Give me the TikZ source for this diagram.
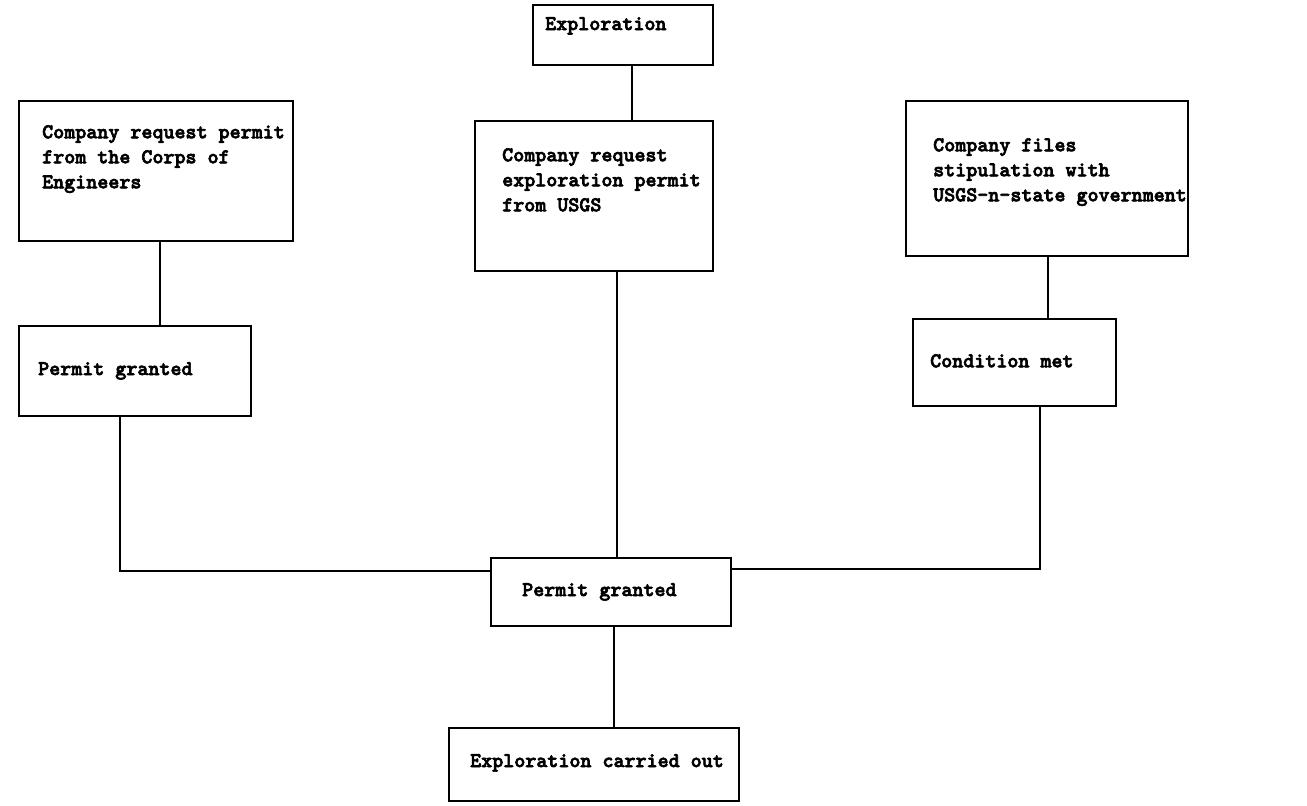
\documentclass[tikz,border=0pt]{standalone}
\usepackage{fontspec}
\newfontfamily\tw[FakeBold=3]{lmmonolt10-bold.otf}
\begin{document}
\begin{tikzpicture}[x=1pt,y=-1pt,
  box/.style={draw, line width=1.6pt, inner sep=0pt, anchor=north west},
  txt/.style={font=\tw\fontsize{21}{25}\selectfont, anchor=north west, inner sep=0pt, align=left},
  conn/.style={line width=1.6pt}]
\useasboundingbox (0,0) rectangle (1307,806);
% boxes
\node[box, minimum width=180pt, minimum height=60pt] (expl) at (532,4) {};
\node[box, minimum width=274pt, minimum height=140pt] (corps) at (18,100) {};
\node[box, minimum width=238pt, minimum height=150pt] (usgs) at (474,120) {};
\node[box, minimum width=282pt, minimum height=155pt] (stip) at (905,100) {};
\node[box, minimum width=232pt, minimum height=90pt] (pg1) at (18,325) {};
\node[box, minimum width=203pt, minimum height=87pt] (cond) at (912,318) {};
\node[box, minimum width=240pt, minimum height=68pt] (pg) at (490,557) {};
\node[box, minimum width=290pt, minimum height=73pt] (done) at (448,727) {};
% texts
\node[txt] (t1) at (545,17) {Exploration};
\node[txt] (t2) at (42,125) {Company request permit\\from the Corps of\\Engineers};
\node[txt] (t3) at (502,148) {Company request\\exploration permit\\from USGS};
\node[txt] (t4) at (933,138) {Company files\\stipulation with\\USGS-n-state government};
\node[txt] (t5) at (38,362) {Permit granted};
\node[txt] (t6) at (930,354) {Condition met};
\node[txt] (t7) at (522,583) {Permit granted};
\node[txt] (t8) at (470,754) {Exploration carried out};
% connectors
\draw[conn] (expl.south -| 632,0) -- (usgs.north -| 632,0);
\draw[conn] (corps.south -| 160,0) -- (pg1.north -| 160,0);
\draw[conn] (stip.south -| 1048,0) -- (cond.north -| 1048,0);
\draw[conn] (usgs.south -| 617,0) -- (pg.north -| 617,0);
\draw[conn] (pg1.south -| 120,0) |- ([yshift=-14pt]pg.north west);
\draw[conn] (cond.south -| 1040,0) |- ([yshift=-12pt]pg.north east);
\draw[conn] (pg.south -| 614,0) -- (done.north -| 614,0);
\end{tikzpicture}
\end{document}
